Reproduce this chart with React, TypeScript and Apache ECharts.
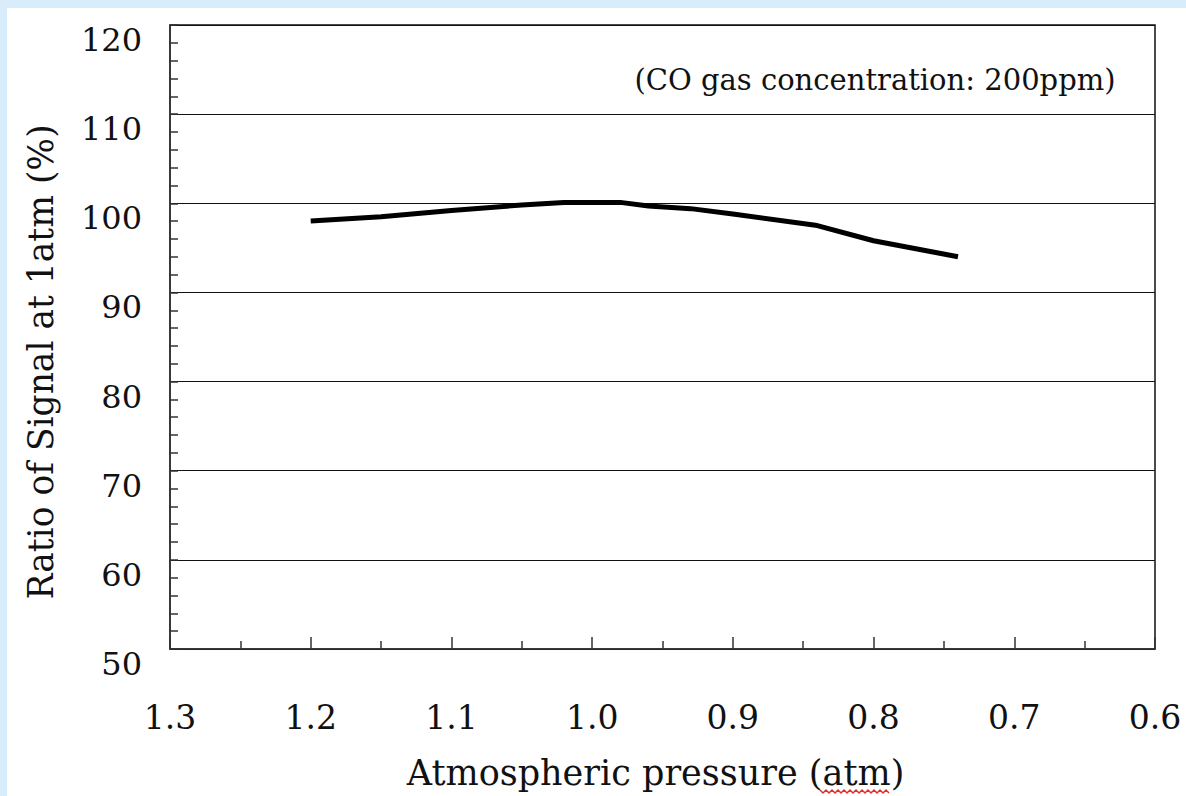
import React, { useEffect, useRef } from "react";
import * as echarts from "echarts";

// Atmospheric pressure (atm)
const pressure = [1.2, 1.15, 1.1, 1.05, 1.02, 1.0, 0.98, 0.96, 0.93, 0.9, 0.84, 0.8, 0.74];
// Ratio of signal at 1 atm (%)
const ratio = [98.0, 98.5, 99.2, 99.8, 100.1, 100.1, 100.1, 99.7, 99.4, 98.8, 97.5, 95.8, 94.0];

const xTicks = { min: 0.6, max: 1.3, interval: 0.1 };
const yTicks = { min: 50, max: 120, interval: 10 };

const xTitle = "Atmospheric pressure (atm)";
const yTitle = "Ratio of Signal at 1atm (%)";
const note = "(CO gas concentration: 200ppm)";

const FONT = "'DejaVu Serif', 'Liberation Serif', serif";

export default function App() {
  const ref = useRef<HTMLDivElement>(null);

  useEffect(() => {
    document.body.style.margin = "0";
    if (!ref.current) return;
    const chart = echarts.init(ref.current, null, { renderer: "svg" });

    // red spell-check squiggle under "atm"
    const squiggle: number[][] = [];
    for (let i = 0; i <= 23; i++) {
      squiggle.push([820 + i * 3, i % 2 === 0 ? 790 : 793]);
    }

    chart.setOption({
      animation: false,
      backgroundColor: "transparent",
      grid: {
        left: 170,
        right: 31,
        top: 25,
        bottom: 147,
        show: true,
        borderColor: "#111",
        borderWidth: 1.5,
        backgroundColor: "transparent",
      },
      xAxis: {
        type: "value",
        min: xTicks.min,
        max: xTicks.max,
        interval: xTicks.interval,
        inverse: true,
        name: xTitle,
        nameLocation: "middle",
        nameGap: 106,
        nameTextStyle: { fontFamily: FONT, fontSize: 35, color: "#111", padding: [0, 14, 0, 0] },
        axisLine: { show: true, lineStyle: { color: "#333", width: 1.5 } },
        axisTick: { show: true, inside: true, length: 12, lineStyle: { color: "#333", width: 1.5 } },
        minorTick: { show: true, splitNumber: 2, length: 8, lineStyle: { color: "#333", width: 1.5 } },
        splitLine: { show: false },
        axisLabel: {
          fontFamily: FONT,
          fontSize: 33,
          color: "#111",
          margin: 52,
          formatter: (v: number) => v.toFixed(1),
        },
      },
      yAxis: {
        type: "value",
        min: yTicks.min,
        max: yTicks.max,
        interval: yTicks.interval,
        axisLine: { show: true, lineStyle: { color: "#333", width: 1.5 } },
        axisTick: { show: true, inside: true, length: 8, lineStyle: { color: "#333", width: 1.5 } },
        minorTick: { show: true, splitNumber: 5, length: 8, lineStyle: { color: "#333", width: 1.5 } },
        splitLine: { show: true, lineStyle: { color: "#111", width: 1.2 } },
        axisLabel: {
          fontFamily: FONT,
          fontSize: 32,
          color: "#111",
          margin: 28,
          verticalAlign: "top",
          lineHeight: 30,
        },
      },
      graphic: [
        {
          type: "text",
          x: 41,
          y: 362,
          rotation: Math.PI / 2,
          style: {
            text: yTitle,
            fontFamily: FONT,
            fontSize: 34.5,
            fill: "#111",
            align: "center",
            verticalAlign: "middle",
          },
        },
        {
          type: "text",
          x: 875,
          y: 80,
          style: {
            text: note,
            fontFamily: FONT,
            fontSize: 29,
            fill: "#111",
            align: "center",
            verticalAlign: "middle",
          },
        },
        {
          type: "polyline",
          shape: { points: squiggle },
          style: { stroke: "#e03030", lineWidth: 1.5, fill: "none" },
        },
      ],
      series: [
        {
          type: "line",
          data: pressure.map((p, i) => [p, ratio[i]]),
          showSymbol: false,
          symbol: "none",
          lineStyle: { color: "#000", width: 5 },
          itemStyle: { color: "#000" },
        },
      ],
    });

    return () => {
      chart.dispose();
    };
  }, []);

  return (
    <div style={{ position: "relative", width: 1186, height: 796, background: "#d8ecfa", overflow: "hidden" }}>
      <div style={{ position: "absolute", left: 7, top: 8, right: 0, bottom: 0, background: "#ffffff" }} />
      <div ref={ref} style={{ position: "absolute", left: 0, top: 0, width: 1186, height: 796 }} />
    </div>
  );
}
